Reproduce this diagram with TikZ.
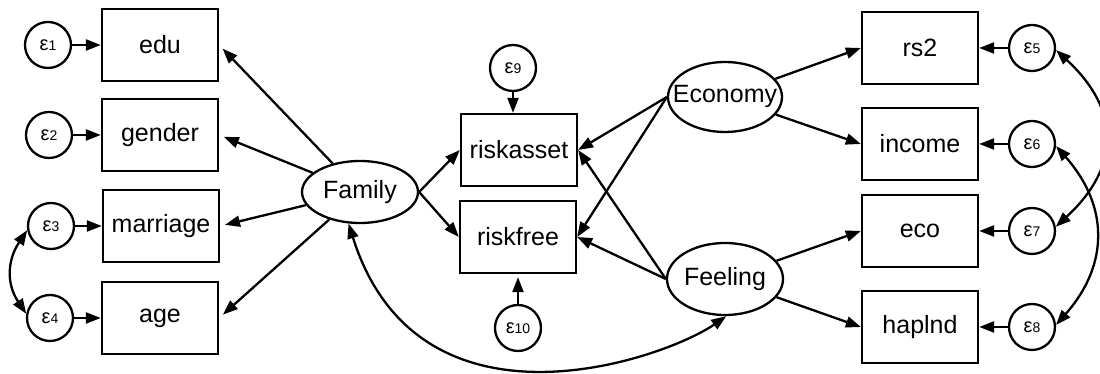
\documentclass[tikz,border=0pt]{standalone}
\usepackage{fontspec}
\setmainfont{Liberation Sans}
\usetikzlibrary{arrows.meta,shapes.geometric}
\newcommand{\epsl}[1]{{\fontsize{10}{10}\selectfont ε}{\fontsize{7}{8}\selectfont #1}}

\begin{document}
\begin{tikzpicture}[x=0.5pt,y=0.5pt,line width=1.15pt,
  font=\fontsize{12.5}{15}\selectfont,
  >={Triangle[length=7.5pt,width=5.5pt]},
  obs/.style={draw,rectangle,minimum width=58pt,minimum height=36pt,inner sep=0pt},
  lat/.style={draw,ellipse,inner xsep=-8pt,inner ysep=0pt},
  err/.style={draw,circle,minimum size=23pt,inner sep=0pt},
  reg/.style={->},
  cov/.style={<->}]
\path[use as bounding box,clip] (0,0) rectangle (1100,374);

\node[obs] (edu) at (160,329) {edu};
\node[obs] (gen) at (160,239) {gender};
\node[obs] (mar) at (161,148) {marriage};
\node[obs] (age) at (160,56) {age};
\node[err] (e1) at (48,329) {\epsl{1}};
\node[err] (e2) at (49,239) {\epsl{2}};
\node[err] (e3) at (51,148) {\epsl{3}};
\node[err] (e4) at (50,56) {\epsl{4}};

\node[lat,minimum width=58pt,minimum height=31pt] (fam) at (360,182) {Family};

\node[obs] (ra) at (519,224) {riskasset};
\node[obs] (rf) at (518,137) {riskfree};
\node[err] (e9) at (513,306) {\epsl{9}};
\node[err] (e10) at (518,46) {\epsl{10}};

\node[lat,minimum width=57pt,minimum height=35pt] (econ) at (725,277) {Economy};
\node[lat,minimum width=58pt,minimum height=36pt] (feel) at (725,95) {Feeling};

\node[obs] (rs2) at (920,326) {rs2};
\node[obs] (inc) at (920,230) {income};
\node[obs] (eco) at (920,143) {eco};
\node[obs] (hap) at (920,47) {haplnd};
\node[err] (e5) at (1032,326) {\epsl{5}};
\node[err] (e6) at (1032,230) {\epsl{6}};
\node[err] (e7) at (1032,143) {\epsl{7}};
\node[err] (e8) at (1032,47) {\epsl{8}};

\foreach \e/\b in {e1/edu,e2/gen,e3/mar,e4/age,e5/rs2,e6/inc,e7/eco,e8/hap}
  \draw[reg] (\e) -- (\b);
\foreach \b in {edu,gen,mar,age}
  \draw[reg,shorten >=2.5pt] (fam) -- (\b.east);
\draw[reg] (fam.east) -- (ra.west);
\draw[reg] (fam.east) -- (rf.west);
\draw[reg] (e9) -- (e9 |- ra.north);
\draw[reg,shorten >=1.5pt] (e10) -- (e10 |- rf.south);
\foreach \l in {econ,feel} {
  \draw[reg] (\l.west) -- (ra.east);
  \draw[reg] (\l.west) -- (rf.east);
}
\draw[reg] (econ) -- (rs2.west);
\draw[reg] (econ) -- (inc.west);
\draw[reg] (feel) -- (eco.west);
\draw[reg] (feel) -- (hap.west);

\draw[cov] (e3.190) .. controls +(-20,-30) and +(-20,30) .. (e4.170);
\draw[cov] (e5.-5) .. controls +(65,-60) and +(65,60) .. (e7.10);
\draw[cov] (e6.-5) .. controls +(53,-60) and +(53,60) .. (e8.5);
\draw[cov] (fam.250) .. controls +(70,-222) and +(-62,-43) .. (feel.272);
\end{tikzpicture}
\end{document}
